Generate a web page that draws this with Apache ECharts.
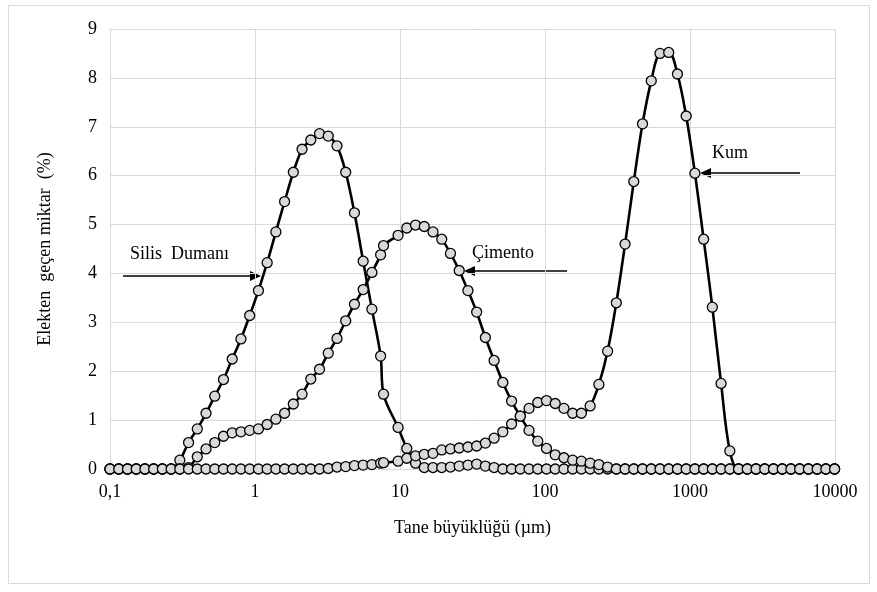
<!DOCTYPE html>
<html>
<head>
<meta charset="utf-8">
<title>Tane büyüklüğü dağılımı</title>
<script src="https://cdn.jsdelivr.net/npm/echarts@6/dist/echarts.min.js"></script>
<style>
  html, body { margin: 0; padding: 0; background: #fff; }
  #chart { width: 877px; height: 592px; }
</style>
</head>
<body>
<div id="chart"></div>
<script>
// tane büyüklükleri (µm), üç malzeme için ortak
const sizes = [
  0.1, 0.1149, 0.132, 0.1516, 0.1741,
  0.2, 0.2297, 0.2639, 0.3031, 0.3482,
  0.4, 0.4595, 0.5278, 0.6063, 0.6964,
  0.8, 0.919, 1.056, 1.213, 1.393,
  1.6, 1.838, 2.111, 2.425, 2.786,
  3.2, 3.676, 4.222, 4.85, 5.572,
  6.4, 7.352, 7.7, 9.701, 11.14,
  12.8, 14.7, 16.89, 19.4, 22.28,
  25.6, 29.41, 33.78, 38.8, 44.57,
  51.2, 58.81, 67.56, 77.61, 89.15,
  102.4, 117.6, 135.1, 155.2, 178.3,
  204.8, 235.3, 270.2, 310.4, 356.6,
  409.6, 470.5, 540.5, 620.9, 713.2,
  819.2, 941, 1081, 1242, 1426,
  1638, 1882, 2162, 2483, 2853,
  3277, 3764, 4324, 4967, 5706,
  6554, 7528, 8648, 9934
]

// elekten geçen miktar (%)
const silisDumani = [
  0, 0, 0, 0, 0, 0, 0, 0, 0.18, 0.54,
  0.82, 1.14, 1.49, 1.83, 2.25, 2.66, 3.14, 3.65, 4.22, 4.85,
  5.47, 6.07, 6.54, 6.73, 6.86, 6.81, 6.61, 6.07, 5.24, 4.25,
  3.27, 2.31, 1.53, 0.85, 0.42, 0.12, 0.03, 0.03, 0.03, 0.04,
  0.06, 0.08, 0.1, 0.06, 0.03, 0, 0, 0, 0, 0,
  0, 0, 0, 0, 0, 0, 0, 0, 0, 0,
  0, 0, 0, 0, 0, 0, 0, 0, 0, 0,
  0, 0, 0, 0, 0, 0, 0, 0, 0, 0,
  0, 0, 0, 0
]

const cimento = [
  0, 0, 0, 0, 0, 0, 0, 0, 0, 0.03,
  0.25, 0.41, 0.54, 0.67, 0.74, 0.76, 0.79, 0.82, 0.91, 1.02,
  1.14, 1.33, 1.53, 1.84, 2.04, 2.37, 2.67, 3.03, 3.37, 3.67,
  4.02, 4.38, 4.57, 4.78, 4.93, 4.99, 4.96, 4.85, 4.7, 4.41,
  4.06, 3.65, 3.21, 2.69, 2.22, 1.77, 1.39, 1.08, 0.79, 0.57,
  0.42, 0.29, 0.23, 0.18, 0.16, 0.12, 0.09, 0.04, 0, 0,
  0, 0, 0, 0, 0, 0, 0, 0, 0, 0,
  0, 0, 0, 0, 0, 0, 0, 0, 0, 0,
  0, 0, 0, 0
]

const kum = [
  0, 0, 0, 0, 0, 0, 0, 0, 0, 0,
  0, 0, 0, 0, 0, 0, 0, 0, 0, 0,
  0, 0, 0, 0, 0, 0.01, 0.04, 0.05, 0.07, 0.08,
  0.09, 0.12, 0.13, 0.16, 0.22, 0.27, 0.3, 0.32, 0.39, 0.41,
  0.43, 0.45, 0.47, 0.53, 0.63, 0.76, 0.92, 1.08, 1.24, 1.36,
  1.4, 1.34, 1.24, 1.14, 1.14, 1.29, 1.73, 2.41, 3.4, 4.6,
  5.88, 7.06, 7.94, 8.5, 8.52, 8.08, 7.22, 6.05, 4.7, 3.31,
  1.75, 0.37, 0, 0, 0, 0, 0, 0, 0, 0,
  0, 0, 0, 0
]

const font = 'Liberation Serif'
const gridColor = '#d9d9d9'

const chart = echarts.init(document.getElementById('chart'))

const makeSeries = (name, vals) => ({
  name: name,
  type: 'line',
  data: sizes.map((s, i) => [s, vals[i]]),
  smooth: 0.35,
  symbol: 'circle',
  symbolSize: 10,
  lineStyle: { color: '#000', width: 2.6 },
  itemStyle: { color: '#d9d9d9', borderColor: '#000', borderWidth: 1.3 },
  emphasis: { disabled: true }
})

// ok: gövde + üçgen uç
const arrow = (x1, x2, y) => {
  const dir = x2 > x1 ? 1 : -1
  return [
    {
      type: 'line',
      shape: { x1: x1, y1: y, x2: x2 - dir * 9, y2: y },
      style: { stroke: '#000', lineWidth: 1.5 }
    },
    {
      type: 'polygon',
      shape: { points: [[x2, y], [x2 - dir * 11, y - 5], [x2 - dir * 11, y + 5]] },
      style: { fill: '#000' }
    }
  ]
}

const label = (text, x, y) => ({
  type: 'text',
  x: x,
  y: y,
  style: { text: text, font: '18px ' + font, fill: '#000', verticalAlign: 'middle' }
})

const option = {
  animation: false,
  backgroundColor: '#fff',
  grid: { left: 110, right: 42, top: 29, bottom: 123 },
  xAxis: {
    type: 'log',
    logBase: 10,
    min: 0.1,
    max: 10000,
    name: 'Tane büyüklüğü (µm)',
    nameLocation: 'middle',
    nameGap: 50,
    nameTextStyle: { fontFamily: font, fontSize: 18, color: '#000' },
    axisLine: { lineStyle: { color: gridColor } },
    axisTick: { show: false },
    axisLabel: {
      fontFamily: font,
      fontSize: 18,
      color: '#000',
      margin: 14,
      formatter: (v) => String(Number(v.toPrecision(6))).replace('.', ',')
    },
    splitLine: { show: true, lineStyle: { color: gridColor } },
    minorSplitLine: { show: false }
  },
  yAxis: {
    type: 'value',
    min: 0,
    max: 9,
    interval: 1,
    name: 'Elekten  geçen miktar  (%)',
    nameLocation: 'middle',
    nameGap: 56,
    nameTextStyle: { fontFamily: font, fontSize: 18, color: '#000' },
    axisLine: { show: true, lineStyle: { color: gridColor } },
    axisTick: { show: false },
    axisLabel: { fontFamily: font, fontSize: 18, color: '#000', margin: 13 },
    splitLine: { lineStyle: { color: gridColor } }
  },
  series: [
    makeSeries('Silis Dumanı', silisDumani),
    makeSeries('Çimento', cimento),
    makeSeries('Kum', kum)
  ],
  graphic: [
    // grafik alanı çerçevesi
    {
      type: 'rect',
      shape: { x: 8.5, y: 5.5, width: 861, height: 578 },
      style: { fill: 'none', stroke: gridColor, lineWidth: 1 },
      silent: true
    },
    label('Silis  Dumanı', 130, 254),
    ...arrow(123, 261, 276),
    label('Çimento', 472, 253),
    ...arrow(567, 464, 271),
    label('Kum', 712, 153),
    ...arrow(800, 700, 173)
  ]
}

chart.setOption(option)
</script>
</body>
</html>
